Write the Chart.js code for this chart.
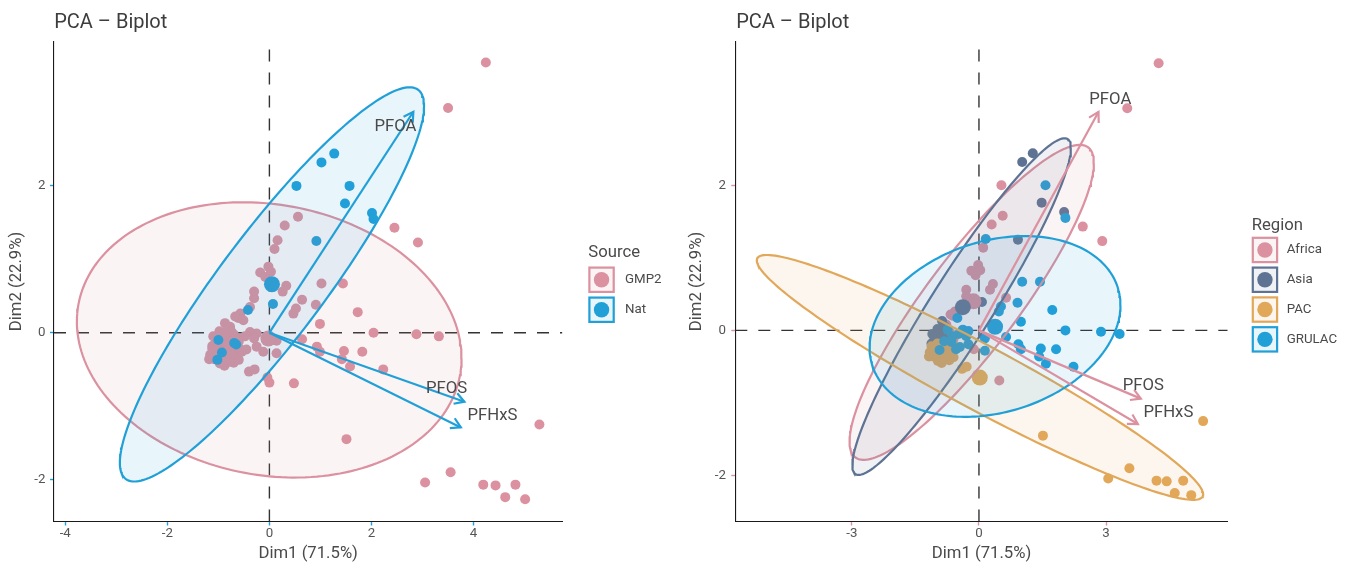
<!DOCTYPE html>
<html>
<head>
<meta charset="utf-8">
<title>PCA – Biplot</title>
<script src="https://cdn.jsdelivr.net/npm/chart.js@4.4.1/dist/chart.umd.min.js"></script>
<style>
  html, body { margin: 0; padding: 0; background: #fff; }
  #wrap { position: relative; width: 1354px; height: 565px; }
  canvas { position: absolute; top: 0; }
  #biplotSource { left: 0; }
  #biplotRegion { left: 677px; }
</style>
</head>
<body>
<div id="wrap">
  <canvas id="biplotSource" width="677" height="565"></canvas>
  <canvas id="biplotRegion" width="677" height="565"></canvas>
</div>
<script>
// ---- Individual scores (Dim1, Dim2), split by region and by source ----
const africaGMP2 = [
  [4.24,3.68],[3.50,3.06],[0.56,1.58],[0.30,1.46],[2.45,1.43],[2.91,1.23],[0.10,1.14],
  [-0.02,0.90],[-0.18,0.82],[0.03,0.83],[-0.08,0.76],[0.33,0.64],[0.26,0.56],[-0.30,0.56],
  [-0.30,0.47],[0.64,0.45],[-0.38,0.35],[-0.57,0.26],[-0.61,0.20],[-0.67,0.22],[-0.77,0.08],
  [-0.72,-0.11],[-0.12,-0.26],[0.48,-0.69],[-0.95,-0.05],[-0.85,0.02],[-1.02,-0.15],
  [-0.80,-0.10],[-0.92,-0.28],[-0.70,-0.02],[-0.60,-0.12],[-1.10,-0.25]
];
const africaNat = [[0.53,2.00],[-0.69,-0.14]];

const asiaGMP2 = [
  [-0.87,0.13],[-0.90,-0.01],[-1.05,-0.12],[-0.98,0.02],[-1.10,-0.05],
  [-0.95,-0.20],[-1.02,-0.30],[-0.85,-0.08],[-0.80,0.05],[-1.12,-0.18]
];
const asiaNat = [
  [1.27,2.44],[1.02,2.32],[1.48,1.76],[2.01,1.63],[0.92,1.25],[0.07,0.39],[-1.00,-0.10],[-1.02,-0.37]
];

const pacGMP2 = [
  [1.51,-1.45],[5.29,-1.25],[3.55,-1.90],[3.05,-2.04],[4.19,-2.07],[4.43,-2.08],[4.82,-2.07],
  [4.62,-2.24],[5.01,-2.27],[-0.04,-0.61],[0.00,-0.68],[-0.40,-0.53],[-0.29,-0.50],
  [-1.16,-0.30],[-1.06,-0.24],[-0.97,-0.42],[-0.77,-0.35],[-0.64,-0.33],
  [-1.18,-0.36],[-1.12,-0.22],[-1.08,-0.36],[-1.02,-0.30],[-0.98,-0.18],[-0.93,-0.32],
  [-0.90,-0.24],[-0.88,-0.45],[-0.85,-0.30],[-0.82,-0.20],[-0.80,-0.40],[-0.73,-0.26],
  [-0.70,-0.41],[-0.66,-0.28],[-0.60,-0.37],[-0.58,-0.22]
];
const pacNat = [];

const grulacGMP2 = [
  [0.16,1.26],[1.02,0.67],[1.44,0.67],[0.91,0.38],[0.52,0.33],[0.47,0.26],[1.73,0.28],
  [0.99,0.12],[2.04,0.00],[2.88,-0.02],[3.32,-0.05],[0.64,-0.09],[0.93,-0.19],[0.99,-0.26],
  [1.46,-0.25],[1.82,-0.26],[1.42,-0.36],[1.58,-0.46],[2.23,-0.50],[0.14,-0.28],[0.14,-0.11],
  [-0.51,0.17],[-0.74,0.01],[-0.38,0.01],[-0.25,-0.01],[-0.48,-0.05],[-0.54,-0.26],
  [-0.25,-0.19],[-0.45,-0.23],[-0.62,-0.08],[-0.82,-0.15],[-0.30,-0.08]
];
const grulacNat = [[1.57,2.00],[2.04,1.55],[-0.42,0.31],[-0.93,-0.27],[-0.65,-0.16]];

// ---- Group centroids ----
const sourceNames = ['GMP2', 'Nat'];
const sourceMeans = [[-0.02,-0.08],[0.05,0.66]];
const regionNames = ['Africa', 'Asia', 'PAC', 'GRULAC'];
const regionMeans = [[-0.13,0.40],[-0.38,0.32],[0.02,-0.65],[0.38,0.05]];

// ---- Concentration ellipses: centre x, centre y, half-width, half-height, tilt (correlation) ----
const sourceEllipses = [
  [-0.004,-0.098,3.768,1.875,-0.133],
  [0.050,0.658,2.980,2.685,0.905]
];
const regionEllipses = [
  [-0.171,0.386,2.883,2.170,0.884],
  [-0.409,0.328,2.579,2.319,0.942],
  [0.024,-0.648,5.267,1.687,-0.955],
  [0.379,0.054,2.960,1.245,0.236]
];

// ---- Variable loadings (arrow tips) and their label anchors ----
const variables = ['PFOA', 'PFOS', 'PFHxS'];
const loadings = [[2.82,3.01],[3.82,-0.94],[3.75,-1.29]];
const sourceLabelAnchors = [[2.47,2.81],[3.47,-0.77],[4.37,-1.13]];
const regionLabelAnchors = [[3.10,3.18],[3.88,-0.77],[4.47,-1.14]];

// ---- Axes ----
const sourceXRange = [-4.22, 5.74];
const sourceYRange = [-2.572, 3.967];
const sourceXTicks = [-4, -2, 0, 2, 4];
const regionXRange = [-5.75, 5.87];
const regionYRange = [-2.633, 3.98];
const regionXTicks = [-3, 0, 3];
const yTicks = [-2, 0, 2];

// ---- Styling ----
const PINK = '#DB91A0', BLUE = '#21A0D8', SLATE = '#5E7393', ORANGE = '#E2A85A';
const FONT = "Roboto, 'DejaVu Sans', sans-serif";
const TEXT_DARK = '#3d3d3d', TEXT_MID = '#4a4a4a', TEXT_TICK = '#555555';
Chart.defaults.font.family = FONT;
Chart.defaults.color = TEXT_TICK;

function rgba(hex, a) {
  const n = parseInt(hex.slice(1), 16);
  return `rgba(${(n >> 16) & 255},${(n >> 8) & 255},${n & 255},${a})`;
}

function ellipseOutline(p, n) {
  const [cx, cy, hx, hy, r] = p;
  const s = Math.sqrt(1 - r * r);
  const pts = [];
  for (let i = 0; i <= n; i++) {
    const t = 2 * Math.PI * i / n;
    pts.push({ x: cx + hx * Math.cos(t), y: cy + hy * (r * Math.cos(t) + s * Math.sin(t)) });
  }
  return pts;
}

const toXY = arr => arr.map(([x, y]) => ({ x, y }));

function decorPlugin(spec) {
  return {
    id: 'decor_' + spec.canvas,
    afterDatasetsDraw(chart) {
      const { ctx } = chart;
      const xs = chart.scales.x, ys = chart.scales.y;
      const ox = xs.getPixelForValue(0), oy = ys.getPixelForValue(0);
      ctx.save();
      // open arrow heads at each loading tip
      ctx.strokeStyle = spec.arrowColor;
      ctx.lineWidth = 2.2;
      ctx.lineCap = 'butt';
      ctx.lineJoin = 'miter';
      const L = 11, A = Math.PI / 6;
      loadings.forEach(([lx, ly]) => {
        const tx = xs.getPixelForValue(lx), ty = ys.getPixelForValue(ly);
        const a = Math.atan2(ty - oy, tx - ox);
        ctx.beginPath();
        ctx.moveTo(tx - L * Math.cos(a - A), ty - L * Math.sin(a - A));
        ctx.lineTo(tx, ty);
        ctx.lineTo(tx - L * Math.cos(a + A), ty - L * Math.sin(a + A));
        ctx.stroke();
      });
      // variable names
      ctx.font = `16.7px ${FONT}`;
      ctx.fillStyle = TEXT_MID;
      ctx.textAlign = 'center';
      ctx.textBaseline = 'middle';
      variables.forEach((v, i) => {
        const [lx, ly] = spec.labelAnchors[i];
        ctx.fillText(v, xs.getPixelForValue(lx), ys.getPixelForValue(ly));
      });
      ctx.restore();
    },
    afterDraw(chart) {
      const { ctx } = chart;
      ctx.save();
      // plot title
      ctx.font = `20px ${FONT}`;
      ctx.fillStyle = TEXT_DARK;
      ctx.textAlign = 'left';
      ctx.textBaseline = 'alphabetic';
      ctx.fillText('PCA – Biplot', spec.titleX, 28);
      // legend
      const lg = spec.legend;
      ctx.font = `16.7px ${FONT}`;
      ctx.fillStyle = TEXT_MID;
      ctx.fillText(lg.title, lg.x, lg.titleBaseline);
      const size = 26.5;
      spec.groups.forEach((g, i) => {
        const top = lg.top + i * lg.step;
        ctx.fillStyle = '#fff';
        ctx.fillRect(lg.x, top, size, size);
        ctx.fillStyle = rgba(g.color, 0.1);
        ctx.fillRect(lg.x, top, size, size);
        ctx.strokeStyle = g.color;
        ctx.lineWidth = 2.2;
        ctx.strokeRect(lg.x + 1.1, top + 1.1, size - 2.2, size - 2.2);
        ctx.beginPath();
        ctx.arc(lg.x + size / 2, top + size / 2, 7.7, 0, 2 * Math.PI);
        ctx.fillStyle = g.color;
        ctx.fill();
        ctx.font = `13.3px ${FONT}`;
        ctx.fillStyle = TEXT_MID;
        ctx.textBaseline = 'middle';
        ctx.fillText(g.label, lg.labelX, top + size / 2);
        ctx.textBaseline = 'alphabetic';
      });
      ctx.restore();
    }
  };
}

function buildBiplot(spec) {
  const [xMin, xMax] = spec.xRange;
  const [yMin, yMax] = spec.yRange;
  const datasets = [];
  const dashed = {
    type: 'line', borderColor: '#333', borderWidth: 1.4, borderDash: [12, 11],
    pointRadius: 0, fill: false, order: 100
  };
  datasets.push({ ...dashed, data: [{ x: 0, y: yMin }, { x: 0, y: yMax }] });
  datasets.push({ ...dashed, data: [{ x: xMin, y: 0 }, { x: xMax, y: 0 }] });

  spec.groups.forEach((g, i) => {
    datasets.push({
      type: 'scatter', label: g.label, data: toXY(g.points),
      pointRadius: 5, pointHoverRadius: 5, pointBackgroundColor: g.color,
      pointBorderWidth: 0, order: 90 - i
    });
  });
  spec.groups.forEach((g, i) => {
    datasets.push({
      type: 'scatter', data: toXY([spec.means[i]]),
      pointRadius: 8, pointHoverRadius: 8, pointBackgroundColor: g.color,
      pointBorderWidth: 0, order: 70 - i
    });
  });
  spec.groups.forEach((g, i) => {
    datasets.push({
      type: 'line', data: ellipseOutline(spec.ellipses[i], 200),
      borderColor: g.color, borderWidth: 2.2, backgroundColor: rgba(g.color, 0.1),
      fill: 'shape', pointRadius: 0, tension: 0, order: 50 - i
    });
  });
  loadings.forEach(tip => {
    datasets.push({
      type: 'line', data: toXY([[0, 0], tip]),
      borderColor: spec.arrowColor, borderWidth: 2.2, borderCapStyle: 'butt',
      pointRadius: 0, fill: false, order: 10
    });
  });

  const tickGrid = {
    display: true, drawOnChartArea: false, drawTicks: true,
    tickLength: 4, tickColor: spec.tickColor, tickWidth: 1.4
  };
  const border = { display: true, color: '#1a1a1a', width: 1.1 };

  return new Chart(document.getElementById(spec.canvas), {
    type: 'scatter',
    data: { datasets },
    options: {
      responsive: false,
      animation: false,
      events: [],
      layout: { padding: { top: 41.5, right: spec.rightPad, bottom: 0, left: 0 } },
      plugins: { legend: { display: false }, tooltip: { enabled: false }, title: { display: false } },
      scales: {
        x: {
          type: 'linear', min: xMin, max: xMax,
          afterBuildTicks: axis => { axis.ticks = spec.xTicks.map(v => ({ value: v })); },
          afterFit: s => { s.height = 43.5; },
          grid: tickGrid, border,
          ticks: { color: TEXT_TICK, font: { size: 13.3 }, padding: 0.5, maxRotation: 0, autoSkip: false },
          title: { display: true, text: 'Dim1 (71.5%)', color: TEXT_MID, font: { size: 16.7 }, padding: { top: 0, bottom: 1.4 } }
        },
        y: {
          type: 'linear', min: yMin, max: yMax,
          afterBuildTicks: axis => { axis.ticks = yTicks.map(v => ({ value: v })); },
          afterFit: s => { s.width = spec.yAxisWidth; },
          grid: tickGrid, border,
          ticks: { color: TEXT_TICK, font: { size: 13.3 }, padding: spec.yTickPad, autoSkip: false },
          title: { display: true, text: 'Dim2 (22.9%)', color: TEXT_MID, font: { size: 16.7 }, padding: { top: spec.yTitlePad, bottom: 0 } }
        }
      }
    },
    plugins: [decorPlugin(spec)]
  });
}

// Left panel: individuals coloured by source
buildBiplot({
  canvas: 'biplotSource',
  groups: [
    { label: sourceNames[0], color: PINK, points: [...africaGMP2, ...asiaGMP2, ...pacGMP2, ...grulacGMP2] },
    { label: sourceNames[1], color: BLUE, points: [...africaNat, ...asiaNat, ...pacNat, ...grulacNat] }
  ],
  means: sourceMeans,
  ellipses: sourceEllipses,
  arrowColor: BLUE,
  tickColor: BLUE,
  labelAnchors: sourceLabelAnchors,
  xRange: sourceXRange, yRange: sourceYRange, xTicks: sourceXTicks,
  yAxisWidth: 54, rightPad: 114.6, yTitlePad: 7.3, yTickPad: 4.5,
  titleX: 54.2,
  legend: { title: 'Source', x: 588.3, titleBaseline: 257.3, top: 266.5, step: 30, labelX: 625 }
});

// Right panel: individuals coloured by region
buildBiplot({
  canvas: 'biplotRegion',
  groups: [
    { label: regionNames[0], color: PINK, points: [...africaGMP2, ...africaNat] },
    { label: regionNames[1], color: SLATE, points: [...asiaGMP2, ...asiaNat] },
    { label: regionNames[2], color: ORANGE, points: [...pacGMP2, ...pacNat] },
    { label: regionNames[3], color: BLUE, points: [...grulacGMP2, ...grulacNat] }
  ],
  means: regionMeans,
  ellipses: regionEllipses,
  arrowColor: PINK,
  tickColor: PINK,
  labelAnchors: regionLabelAnchors,
  xRange: regionXRange, yRange: regionYRange, xTicks: regionXTicks,
  yAxisWidth: 58.3, rightPad: 126.3, yTitlePad: 10.3, yTickPad: 5.3,
  titleX: 59.2,
  legend: { title: 'Region', x: 574.7, titleBaseline: 229.5, top: 236.7, step: 29.8, labelX: 609.7 }
});
</script>
</body>
</html>
